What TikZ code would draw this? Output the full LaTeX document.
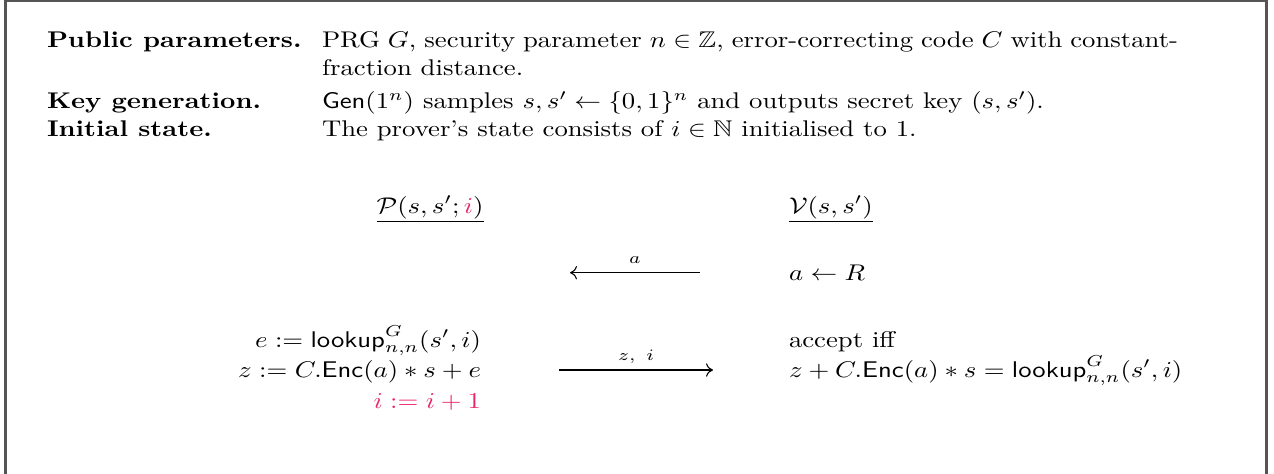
\documentclass[tikz,border=0pt]{standalone}
\usepackage{amsmath,amssymb,graphicx}
\usetikzlibrary{arrows.meta}
\definecolor{pk}{RGB}{232,38,108}
\definecolor{framegray}{RGB}{85,85,85}
\newcommand{\sqz}[1]{\scalebox{1}[0.85]{#1}}
\begin{document}
\begin{tikzpicture}[x=0.37453pt,y=-0.37453pt,
  txt/.style={inner sep=0pt,outer sep=0pt,anchor=base west},
  txtr/.style={inner sep=0pt,outer sep=0pt,anchor=base east},
  msg/.style={-{To[length=2.6pt,width=5pt]},line width=0.4pt},
  lbl/.style={inner sep=0pt,anchor=base,font=\scriptsize}]
\useasboundingbox (0,0) rectangle (1274,473);
\begin{scope}
\clip (0,0) rectangle (1274,473);
\draw[framegray,line width=0.8pt] (5.5,1.2) rectangle (1266.5,490);
\end{scope}
% header
\node[txt] (pp) at (47,47.3) {\sqz{\textbf{Public parameters.}}};
\node[txt] (ppt1) at (322,47.3) {\sqz{\makebox[320.6pt][s]{PRG $G$, security parameter $n\in\mathbb{Z}$, error-correcting code $C$ with constant-}}};
\node[txt] (ppt2) at (322,75) {\sqz{fraction distance.}};
\node[txt] (kg) at (47,108.3) {\sqz{\textbf{Key generation.}}};
\node[txt] (kgt) at (322,108.3) {\sqz{$\mathsf{Gen}(1^n)$ samples $s,s'\leftarrow\{0,1\}^n$ and outputs secret key $(s,s')$.}};
\node[txt] (is) at (47,136.7) {\sqz{\textbf{Initial state.}}};
\node[txt] (ist) at (322,136.7) {\sqz{The prover's state consists of $i\in\mathbb{N}$ initialised to 1.}};
% parties
\node[inner sep=0pt,anchor=base] (P) at (430,213) {\sqz{$\underline{\mathcal{P}(s,s';\textcolor{pk}{i})}$}};
\node[txt] (V) at (789,213) {\sqz{$\underline{\mathcal{V}(s,s')}$}};
% round 1
\node[txt] (ar) at (789,280) {\sqz{$a\leftarrow R$}};
\coordinate (a1) at (700,272.7);
\coordinate (a2) at (570,272.7);
\draw[msg] (a1) -- node[lbl,yshift=3.5pt] {\sqz{$a$}} (a2);
% round 2
\node[txtr] (pe) at (481,347) {\sqz{$e:=\mathsf{lookup}^G_{n,n}(s',i)$}};
\node[txtr] (pz) at (481,377) {\sqz{$z:=C.\mathsf{Enc}(a)*s+e$}};
\node[txtr,text=pk] (pi) at (481,408) {\sqz{$i:=i+1$}};
\node[txt] (acc) at (789,347) {\sqz{accept iff}};
\node[txt] (chk) at (789,377) {\sqz{$z+C.\mathsf{Enc}(a)*s=\mathsf{lookup}^G_{n,n}(s',i)$}};
\coordinate (b1) at (559,370);
\coordinate (b2) at (713,370);
\draw[msg] (b1) -- node[lbl,yshift=3.5pt] {\sqz{$z,\ i$}} (b2);
\end{tikzpicture}
\end{document}
